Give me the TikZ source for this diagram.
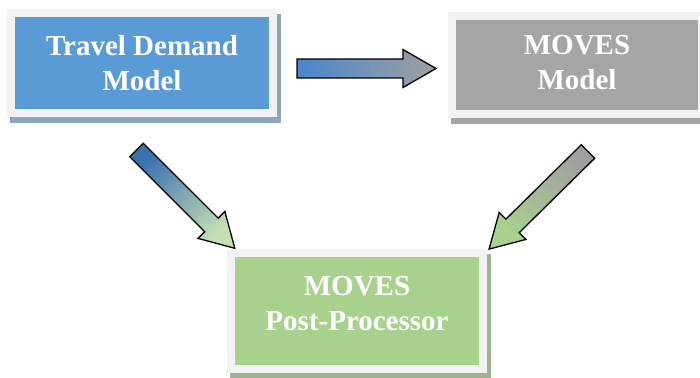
\documentclass[tikz,border=0pt]{standalone}
\usepackage{fontspec}
\setmainfont{Liberation Serif}
\usetikzlibrary{backgrounds,calc}
\definecolor{boxblue}{HTML}{5B9BD5}
\definecolor{boxgray}{HTML}{A5A5A5}
\definecolor{boxgreen}{HTML}{A9D18E}
\definecolor{framegray}{HTML}{F2F2F2}
\definecolor{shblue}{HTML}{8EA5C0}
\definecolor{shgray}{HTML}{A3A3A3}
\definecolor{shgreen}{HTML}{9DB393}
\definecolor{arblue}{HTML}{4A86CE}
\definecolor{ardblue}{HTML}{3A6FB0}
\definecolor{argray}{HTML}{A0A0A0}
\definecolor{arlgreen}{HTML}{C6E0B4}
\definecolor{argreen}{HTML}{A9D18E}
\tikzset{
  box/.style={draw=framegray, line width=8pt, outer sep=0pt, inner sep=0pt,
    text=white, align=center,
    font=\fontsize{29}{35}\selectfont\bfseries},
  blockarrow/.style={draw=black, line width=1.3pt, line join=miter}
}
\newcommand{\blockarrowpath}{(0,-9.5) -- (106,-9.5) -- (106,-19) -- (139,0) -- (106,19) -- (106,9.5) -- (0,9.5) -- cycle}
\newcommand{\liftedtext}[2]{\raisebox{#1}[\height][\depth]{\parbox{250pt}{\centering #2}}}
\begin{document}
\begin{tikzpicture}[x=1pt,y=-1pt]
\useasboundingbox (0,0) rectangle (700,377);
\node[box, fill=boxblue, minimum width=262pt, minimum height=100pt] (tdm) at (142,63) {Travel Demand\\Model};
\node[box, fill=boxgray, minimum width=250pt, minimum height=98pt] (mm) at (577,65) {\liftedtext{2pt}{MOVES\\Model}};
\node[box, fill=boxgreen, minimum width=252pt, minimum height=116pt] (pp) at (357,311) {\liftedtext{7pt}{MOVES\\Post-Processor}};
\begin{scope}[on background layer]
  \fill[shblue] ($(tdm.north west)+(-1,1)$) rectangle ($(tdm.south east)+(8,10)$);
  \fill[shgray] ($(mm.north west)+(-1,1)$) rectangle ($(mm.south east)+(8,10)$);
  \fill[shgreen] ($(pp.north west)+(-1,1)$) rectangle ($(pp.south east)+(8,10)$);
\end{scope}
\coordinate (t1) at (297,68.5);
\coordinate (t2) at (136.5,150);
\coordinate (t3) at (588,151.5);
\begin{scope}[shift={(t1)}, rotate=0]
  \shade[blockarrow, left color=arblue, right color=argray] \blockarrowpath;
\end{scope}
\begin{scope}[shift={(t2)}, rotate=-45]
  \shade[blockarrow, left color=ardblue, right color=arlgreen, shading angle=45] \blockarrowpath;
\end{scope}
\begin{scope}[shift={(t3)}, rotate=-135.4]
  \shade[blockarrow, left color=argray, right color=argreen, shading angle=-45] \blockarrowpath;
\end{scope}
\end{tikzpicture}
\end{document}
